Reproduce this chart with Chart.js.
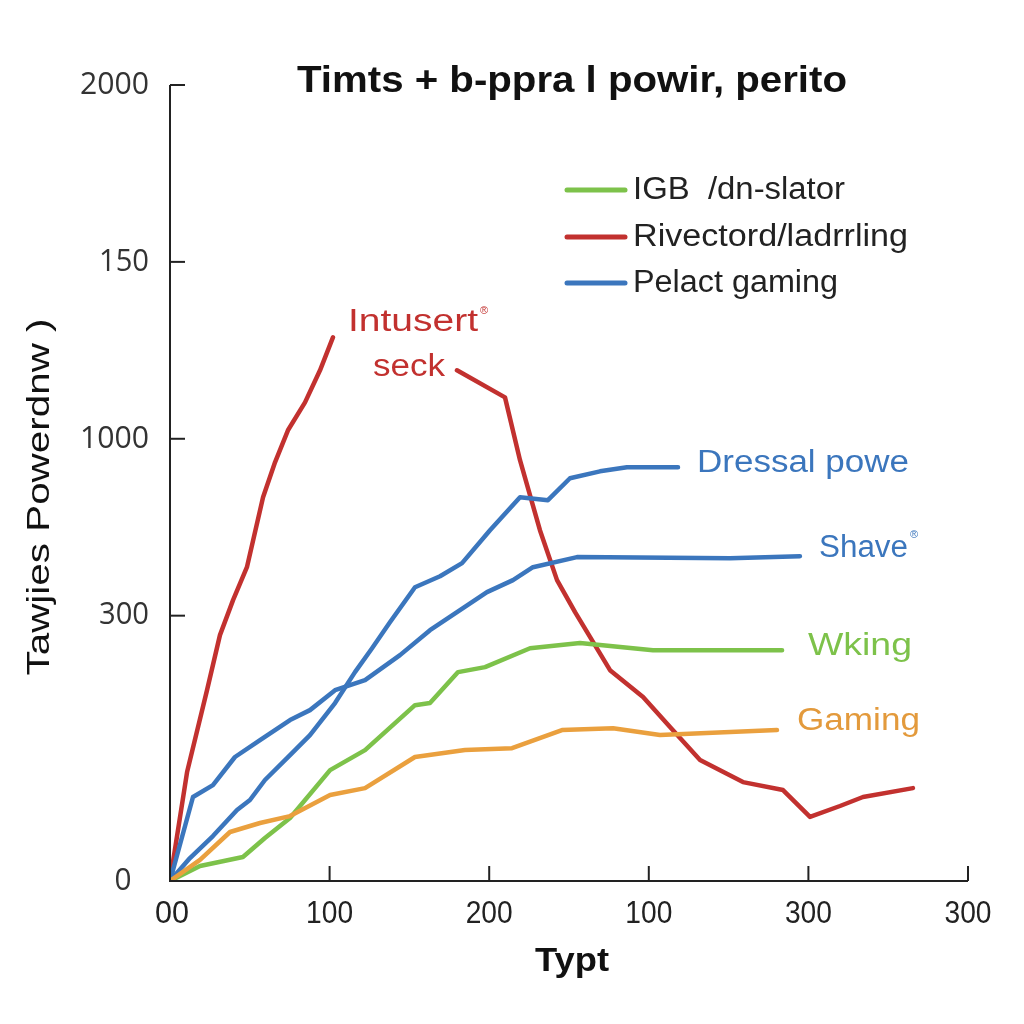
<!DOCTYPE html>
<html>
<head>
<meta charset="utf-8">
<script src="https://cdn.jsdelivr.net/npm/chart.js@4.4.1/dist/chart.umd.min.js"></script>
<style>
html,body{margin:0;padding:0;background:#fff;}
#wrap{width:1024px;height:1024px;}
</style>
</head>
<body>
<div id="wrap"><canvas id="c" width="1024" height="1024"></canvas></div>
<script>
// ---- data (x in tick-interval units, y in axis units) ----
const xTickLabels = ["00","100","200","100","300","300"];
const yTickValues = [0, 1.5, 2.5, 3.5, 4.5];
const yTickLabels = ["0","300","1000","150","2000"];

const redX = [0,0.107,0.232,0.313,0.395,0.482,0.583,0.658,0.739,0.846,0.940,1.021, 1.4,
  1.798,2.099,2.193,2.318,2.425,2.538,2.757,2.964,3.133,3.321,3.590,3.841,4.010,4.198,4.342,4.655];
const redY = [0,0.616,1.079,1.390,1.588,1.774,2.169,2.367,2.548,2.706,2.887,3.073, null,
  2.887,2.734,2.379,1.983,1.701,1.520,1.192,1.040,0.870,0.684,0.559,0.514,0.362,0.424,0.475,0.525];

const dressalX = [0,0.125,0.269,0.420,0.501,0.595,0.752,0.877,1.034,1.159,1.266,1.378,1.535,1.692,1.830,2.005,2.193,2.368,2.506,2.694,2.863,3.183];
const dressalY = [0,0.130,0.254,0.401,0.458,0.571,0.712,0.825,1.006,1.181,1.316,1.463,1.661,1.723,1.797,1.983,2.169,2.153,2.277,2.316,2.339,2.339];

const shaveX = [0,0.144,0.269,0.407,0.564,0.752,0.877,1.034,1.222,1.441,1.629,1.817,1.986,2.149,2.274,2.550,3.509,3.947];
const shaveY = [0,0.475,0.542,0.701,0.797,0.910,0.966,1.079,1.136,1.277,1.418,1.531,1.633,1.701,1.774,1.831,1.825,1.836];

const wkingX = [0,0.188,0.457,0.595,0.752,1.003,1.222,1.535,1.629,1.805,1.974,2.256,2.569,3.026,3.835];
const wkingY = [0,0.085,0.136,0.243,0.356,0.627,0.740,0.994,1.006,1.181,1.209,1.316,1.345,1.305,1.305];

const gamingX = [0,0.188,0.376,0.564,0.752,1.003,1.222,1.535,1.848,2.143,2.456,2.776,3.070,3.803];
const gamingY = [0,0.119,0.277,0.328,0.367,0.486,0.525,0.701,0.740,0.751,0.853,0.864,0.825,0.853];

const legendLabels = ["IGB  /dn-slator","Rivectord/ladrrling","Pelact gaming"];
const titleText = "Timts + b-ppra l powir, perito";
const xTitle = "Typt";
const yTitle = "Tawjies Powerdnw )";

const COL = {red:"#c2312f", blue:"#3b76bd", green:"#7dc24a", orange:"#eaa03e"};

function pts(xs, ys){ return xs.map((x,i)=>({x:x, y:ys[i]})); }

function fitText(ctx, text, x, y, w, font, color, align){
  ctx.save();
  ctx.font = font;
  ctx.fillStyle = color;
  ctx.textBaseline = "middle";
  const m = ctx.measureText(text).width;
  const s = w / m;
  let left = x;
  if (align === "center") left = x - w/2;
  else if (align === "right") left = x - w;
  ctx.translate(left, y);
  ctx.scale(s, 1);
  ctx.textAlign = "left";
  ctx.fillText(text, 0, 0);
  ctx.restore();
}
function reg(ctx, x, y, color){
  ctx.save();
  ctx.font = "11px 'Liberation Sans'";
  ctx.fillStyle = color;
  ctx.textBaseline = "middle";
  ctx.textAlign = "left";
  ctx.fillText("\u00AE", x, y);
  ctx.restore();
}

const decor = {
  id: "decor",
  afterDatasetsDraw(chart){
    const ctx = chart.ctx;
    const xs = chart.scales.x, ys = chart.scales.y;
    const L = xs.getPixelForValue(0), R = xs.getPixelForValue(5);
    const B = ys.getPixelForValue(0), T = ys.getPixelForValue(4.5);
    ctx.save();
    ctx.strokeStyle = "#222";
    ctx.lineWidth = 2;
    ctx.beginPath();
    ctx.moveTo(L, T); ctx.lineTo(L, B); ctx.lineTo(R, B);
    ctx.stroke();
    yTickValues.forEach((v,i)=>{
      const py = ys.getPixelForValue(v);
      if (i>0){ ctx.beginPath(); ctx.moveTo(L, py); ctx.lineTo(L+15, py); ctx.stroke(); }
      const lab = yTickLabels[i];
      if (lab === "0") fitText(ctx, lab, 123, py, 17, "31px 'Open Sans'", "#333", "center");
      else fitText(ctx, lab, 149, py, lab.length===4?69:50, "31px 'Open Sans'", "#333", "right");
    });
    xTickLabels.forEach((lab,i)=>{
      const px = xs.getPixelForValue(i);
      if (i>0){ ctx.beginPath(); ctx.moveTo(px, B); ctx.lineTo(px, B-15); ctx.stroke(); }
      fitText(ctx, lab, i===0?172:px, 914, lab.length===2?34:47, "32px 'Liberation Sans'", "#222", "center");
    });
    ctx.restore();

    fitText(ctx, titleText, 572, 82, 550, "bold 36px 'Liberation Sans'", "#111", "center");
    fitText(ctx, xTitle, 572, 962, 74, "bold 34px 'Liberation Sans'", "#111", "center");
    ctx.save();
    ctx.translate(40, 497);
    ctx.rotate(-Math.PI/2);
    fitText(ctx, yTitle, 0, 0, 357, "31px 'Liberation Sans'", "#111", "center");
    ctx.restore();

    const legCols = [COL.green, COL.red, COL.blue];
    const legY = [190, 237, 283];
    const legW = [212, 275, 205];
    legendLabels.forEach((t,i)=>{
      ctx.save();
      ctx.strokeStyle = legCols[i]; ctx.lineWidth = 5; ctx.lineCap = "round";
      ctx.beginPath(); ctx.moveTo(567, legY[i]); ctx.lineTo(625, legY[i]); ctx.stroke();
      ctx.restore();
      fitText(ctx, t, 633, legY[i], legW[i], "31px 'Liberation Sans'", "#222", "left");
    });

    fitText(ctx, "Intusert", 348, 322, 130, "31px 'Liberation Sans'", COL.red, "left");
    reg(ctx, 480, 311, COL.red);
    fitText(ctx, "seck", 373, 367, 72, "31px 'Liberation Sans'", COL.red, "left");
    fitText(ctx, "Dressal powe", 697, 463, 212, "31px 'Liberation Sans'", COL.blue, "left");
    fitText(ctx, "Shave", 819, 548, 89, "31px 'Liberation Sans'", COL.blue, "left");
    reg(ctx, 910, 535, COL.blue);
    fitText(ctx, "Wking", 808, 646, 104, "31px 'Liberation Sans'", COL.green, "left");
    fitText(ctx, "Gaming", 797, 721, 123, "31px 'Liberation Sans'", "#e39a3c", "left");
  }
};

const ds = (label, data, color) => ({
  label, data, borderColor: color, backgroundColor: color,
  borderWidth: 4.5, pointRadius: 0, tension: 0, spanGaps: false,
  borderJoinStyle: "round", borderCapStyle: "round", fill: false
});

new Chart(document.getElementById("c"), {
  type: "line",
  data: {
    datasets: [
      ds("Gaming", pts(gamingX, gamingY), COL.orange),
      ds("Wking", pts(wkingX, wkingY), COL.green),
      ds("Shave", pts(shaveX, shaveY), COL.blue),
      ds("Dressal powe", pts(dressalX, dressalY), COL.blue),
      ds("Intusert seck", pts(redX, redY), COL.red)
    ]
  },
  options: {
    responsive: false,
    animation: false,
    layout: { padding: { left: 170, right: 56, top: 85, bottom: 143 } },
    plugins: { legend: { display: false }, title: { display: false }, tooltip: { enabled: false } },
    scales: {
      x: { type: "linear", min: 0, max: 5, display: false },
      y: { type: "linear", min: 0, max: 4.5, display: false }
    }
  },
  plugins: [decor]
});
</script>
</body>
</html>
